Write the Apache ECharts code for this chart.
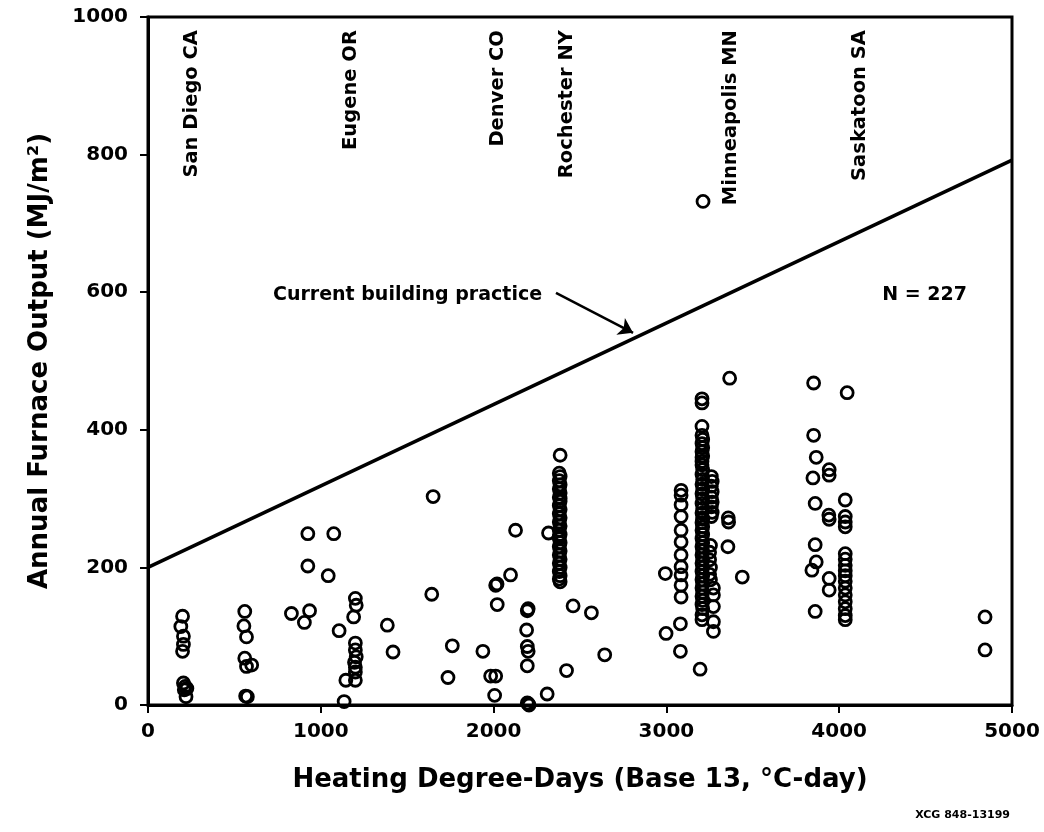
<!DOCTYPE html>
<html>
<head>
<meta charset="utf-8">
<script src="https://cdn.jsdelivr.net/npm/echarts@6/dist/echarts.min.js"></script>
<style>html,body{margin:0;padding:0;background:#fff;}#c{width:1044px;height:832px;}</style>
</head>
<body>
<div id="c"></div>
<script>
// ---- data (HDD, MJ/m2) ----
const xTicks = [0, 1000, 2000, 3000, 4000, 5000];
const yTicks = [0, 200, 400, 600, 800, 1000];
const sanDiego = [[200,129],[190,114],[205,100],[205,88],[200,78],[205,32],[215,27],[225,24],[220,12],[210,22]];
const cluster580 = [[560,136],[555,115],[570,99],[560,68],[600,58],[570,56],[565,13],[575,12]];
const cluster900 = [[830,133],[935,137],[905,120],[925,249],[1075,249],[925,202],[1043,188]];
const eugene = [[1200,155],[1205,145],[1190,128],[1106,108],[1200,90],[1200,80],[1205,70],[1195,62],[1200,55],[1200,48],[1145,36],[1200,36],[1135,5]];
const mid = [[1385,116],[1418,77],[1650,303],[1642,161],[1761,86],[1736,40],[1938,78],[1983,42],[2012,42],[2006,14],[2012,174],[2020,176],[2021,146],[2098,189],[2127,254]];
const denver = [[2195,137],[2200,140],[2191,109],[2195,85],[2200,78],[2195,57],[2200,2],[2205,0],[2195,3]];
const cluster2400 = [[2310,16],[2422,50],[2460,144],[2566,134],[2643,73],[2318,250]];
const rochester = [[2385,363],[2380,337],[2385,332],[2380,326],[2385,320],[2380,314],[2385,308],[2380,302],[2385,296],[2380,290],[2385,284],[2380,278],[2385,272],[2380,266],[2385,260],[2380,254],[2385,248],[2380,242],[2385,236],[2380,230],[2385,224],[2380,218],[2385,212],[2380,206],[2385,200],[2380,194],[2385,188],[2380,183],[2385,179],[2380,245],[2385,300]];
const minnLeft = [[3085,312],[3085,305],[3085,291],[3085,274],[3085,254],[3085,237],[3085,218],[3085,201],[3085,189],[3085,174],[3085,157],[2994,191],[3081,118],[2998,104],[3081,78],[3195,52]];
const minnMain = [[3206,445],[3206,439],[3206,405],[3206,392],[3210,386],[3206,380],[3210,374],[3206,368],[3210,362],[3206,354],[3206,349],[3210,342],[3206,335],[3210,328],[3206,321],[3210,314],[3206,307],[3210,300],[3206,293],[3210,286],[3206,279],[3210,272],[3206,265],[3210,259],[3206,254],[3210,248],[3206,242],[3210,236],[3206,230],[3210,224],[3206,218],[3210,212],[3206,206],[3210,200],[3206,194],[3210,188],[3206,182],[3210,176],[3206,170],[3210,164],[3206,158],[3210,152],[3206,146],[3210,140],[3206,131],[3206,124],[3206,360],[3210,270]];
const minnRight = [[3260,332],[3265,325],[3260,318],[3265,310],[3260,302],[3265,295],[3260,288],[3265,280],[3260,274],[3255,232],[3250,222],[3250,211],[3255,200],[3250,190],[3255,182],[3272,170],[3272,160],[3272,143],[3272,121],[3272,107]];
const minnOuter = [[3366,475],[3358,272],[3360,266],[3356,230],[3439,186],[3212,732]];
const saskatoon = [[3852,468],[4046,454],[3852,392],[3867,360],[3942,342],[3942,334],[3848,330],[3861,293],[4035,298],[3940,276],[3942,270],[4035,274],[4035,266],[4035,259],[3861,233],[3867,208],[3842,196],[3942,184],[3942,167],[3861,136]];
const saskColumn = [[4035,220],[4035,212],[4035,203],[4035,195],[4035,188],[4035,180],[4035,170],[4035,160],[4035,150],[4035,140],[4035,130],[4035,124]];
const farRight = [[4844,128],[4844,80]];
const practiceLine = [[0,200],[5000,792]];
const arrowCoords = [[2361,599],[2807,541]];
const cityNames = ['San Diego CA','Eugene OR','Denver CO','Rochester NY','Minneapolis MN','Saskatoon SA'];
const cityX = [254, 1173, 2023, 2422, 3376, 4121];
const cityLabelY = 981;
const notes = [
  {name:'Current building practice', value:[723,596]},
  {name:'N = 227', value:[4249,596]}
];

const points = [].concat(sanDiego, cluster580, cluster900, eugene, mid, denver, cluster2400,
  rochester, minnLeft, minnMain, minnRight, minnOuter, saskatoon, saskColumn, farRight);

const FONT = 'DejaVu Sans';
const chart = echarts.init(document.getElementById('c'), null, {renderer:'canvas'});
chart.setOption({
  animation: false,
  backgroundColor: '#fff',
  grid: {left:148, right:32, top:17, bottom:127, show:true, borderColor:'#000', borderWidth:3, backgroundColor:'transparent'},
  xAxis: {
    type:'value', min:xTicks[0], max:xTicks[xTicks.length-1], interval:1000,
    name:'Heating Degree-Days (Base 13, °C-day)', nameLocation:'middle', nameGap:62,
    nameTextStyle:{fontFamily:FONT, fontSize:26, fontWeight:'bold', color:'#000'},
    axisLine:{show:true, lineStyle:{color:'#000', width:3}},
    axisTick:{show:true, length:8, lineStyle:{color:'#000', width:2}},
    axisLabel:{fontFamily:FONT, fontSize:20, fontWeight:'bold', color:'#000', margin:17, formatter:v=>String(v)},
    splitLine:{show:false}
  },
  yAxis: {
    type:'value', min:yTicks[0], max:yTicks[yTicks.length-1], interval:200,
    name:'Annual Furnace Output (MJ/m²)', nameLocation:'middle', nameGap:95, nameRotate:90,
    nameTextStyle:{fontFamily:FONT, fontSize:26, fontWeight:'bold', color:'#000'},
    axisLine:{show:true, lineStyle:{color:'#000', width:3}},
    axisTick:{show:true, length:8, lineStyle:{color:'#000', width:2}},
    axisLabel:{fontFamily:FONT, fontSize:20, fontWeight:'bold', color:'#000', margin:20, formatter:v=>String(v)},
    splitLine:{show:false}
  },
  series: [
    {
      type:'line', data:practiceLine, symbol:'none', silent:true,
      lineStyle:{color:'#000', width:3.5}, z:3
    },
    {
      type:'scatter', data:points, symbol:'circle', symbolSize:12,
      itemStyle:{color:'rgba(0,0,0,0)', borderColor:'#000', borderWidth:2.8, opacity:1}, z:4
    },
    {
      type:'lines', coordinateSystem:'cartesian2d', silent:true,
      data:[{coords:arrowCoords}],
      symbol:['none','arrow'], symbolSize:14,
      lineStyle:{color:'#000', width:2.5, opacity:1}, z:5
    },
    {
      type:'scatter', symbolSize:0, silent:true, itemStyle:{opacity:1},
      data:cityNames.map((n,i)=>({name:n, value:[cityX[i], cityLabelY]})),
      label:{show:true, position:'inside', formatter:'{b}', rotate:90, align:'right', verticalAlign:'middle',
        fontFamily:FONT, fontSize:19.5, fontWeight:'bold', color:'#000'}, z:6
    },
    {
      type:'scatter', symbolSize:0, silent:true, data:notes, itemStyle:{opacity:1},
      label:{show:true, position:'inside', formatter:'{b}', align:'left', verticalAlign:'middle',
        fontFamily:FONT, fontSize:19, fontWeight:'bold', color:'#000'}, z:6
    }
  ],
  graphic: [
    {type:'text', right:34, top:810, style:{text:'XCG 848-13199', fontFamily:FONT, fontSize:11, fontWeight:'bold', fill:'#000'}}
  ]
});
</script>
</body>
</html>
